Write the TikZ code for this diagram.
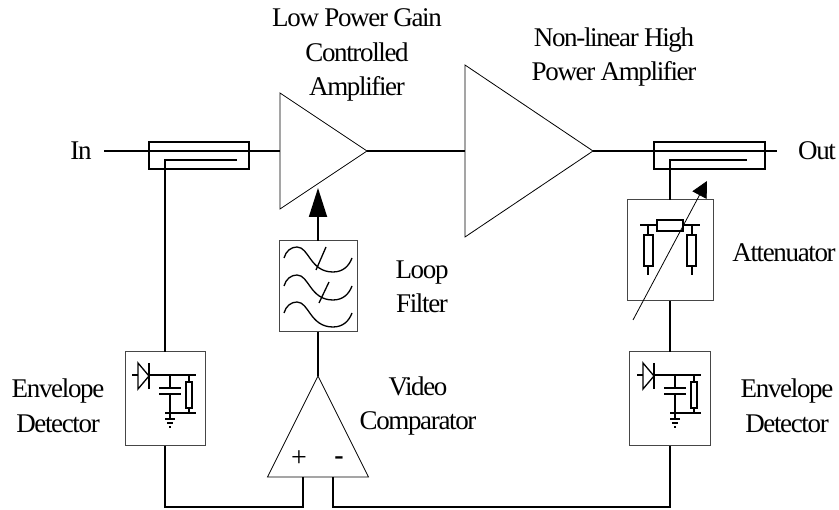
\documentclass[tikz,border=0pt]{standalone}
\usepackage{fontspec}
\setmainfont[LetterSpace=-5]{Liberation Serif}
\usetikzlibrary{shapes.geometric, arrows.meta, positioning, calc}
\definecolor{boxgrey}{RGB}{70,70,70}
\tikzset{
    wire/.style={line width=1.8pt, black},
    thinline/.style={line width=0.8pt, black},
    symline/.style={line width=1.3pt, black},
    label/.style={font=\fontsize{27}{34.5}\selectfont, inner sep=0pt, align=center},
    circuitbox/.style={draw=boxgrey, line width=1pt, inner sep=0pt, outer sep=0pt},
    coupler/.style={draw, line width=1.8pt, inner sep=0pt, outer sep=0pt, minimum height=27, minimum width=#1},
    amp/.style={draw, line width=0.8pt, isosceles triangle, isosceles triangle stretches, inner sep=0pt, outer sep=0pt, anchor=apex},
    pics/envdetector/.style={code={
        % diode and rail
        \draw[symline] (-38,-24) -- (-32,-24);
        \draw[symline] (-32,-36) -- (-32,-10) -- (-21,-23) -- cycle;
        \draw[symline] (-21,-36) -- (-21,-10);
        \draw[symline] (-21,-24) -- (26,-24);
        % capacitor
        \draw[symline] (0,-24) -- (0,-11) (-11,-11) -- (11,-11) (-11,-5) -- (11,-5) (0,-5) -- (0,20);
        % shunt resistor
        \draw[symline] (19,-24) -- (19,-17) (19,9) -- (19,14);
        \draw[symline] (16,-17) rectangle (22,9);
        \draw[symline] (-5,14) -- (26,14);
        % ground
        \draw[symline] (-5,20) -- (5,20) (-3,24) -- (3,24) (-1,28) -- (1,28);
    }},
    pics/filtercurve/.style={code={
        \draw[symline] (0,0) .. controls (2,-7) and (7,-11) .. (13,-11)
            .. controls (25,-11) and (26,14) .. (49,14)
            .. controls (59,14) and (65,8) .. (68,0);
    }},
}
\begin{document}
\begin{tikzpicture}[x=1pt,y=-1pt]
    \useasboundingbox (0,0) rectangle (839,510);

    % amplifiers
    \node[amp, minimum width=116, minimum height=87] (ampLow) at (367,151) {};
    \node[amp, minimum width=172, minimum height=128] (ampHigh) at (593,151) {};
    \node[amp, shape border rotate=90, minimum width=101, minimum height=101] (cmp) at (318,376) {};

    % couplers
    \node[coupler=100] (cplIn) at (199,155.5) {};
    \node[coupler=111] (cplOut) at (709.5,155.5) {};

    % circuit boxes
    \node[circuitbox, minimum width=78, minimum height=91] (filter) at (318,286.5) {};
    \node[circuitbox, minimum width=86, minimum height=101] (atten) at (670,250.5) {};
    \node[circuitbox, minimum width=80, minimum height=94] (detL) at (165,399) {};
    \node[circuitbox, minimum width=81, minimum height=94] (detR) at (670,399) {};

    \coordinate (inEnd) at (104,151);
    \coordinate (outEnd) at (777,151);
    \coordinate (tapIn) at (165,160);
    \coordinate (tapInEnd) at (237,160);
    \coordinate (tapOut) at (670,160);
    \coordinate (tapOutEnd) at (747,160);
    \coordinate (plusIn) at (303,477);
    \coordinate (minusIn) at (333,477);
    \coordinate (attenStart) at (633,320);
    \coordinate (attenTip) at (707,181);

    % signal path
    \draw[wire] (inEnd) -- (ampLow.lower side);
    \draw[wire] (ampLow.apex) -- (ampHigh.lower side);
    \draw[wire] (ampHigh.apex) -- (outEnd);

    % detection loop
    \draw[wire] (tapInEnd) -- (tapIn) -- (detL.north);
    \draw[wire] (tapOutEnd) -- (tapOut) -- (atten.north);
    \draw[wire] (atten.south) -- (detR.north);
    \draw[wire] (detL.south) -- ++(0,61) -| (plusIn);
    \draw[wire] (detR.south) -- ++(0,61) -| (minusIn);
    \draw[wire] (cmp.apex) -- (filter.south);
    \draw[wire, -{Triangle[length=29pt,width=18pt]}] (filter.north) -- (318,188);
    \draw[thinline, -{Triangle[length=16pt,width=16pt]}] (attenStart) -- (attenTip);

    % filter symbol
    \pic at (284,258) {filtercurve};
    \pic at (284,286) {filtercurve};
    \pic at (284,313) {filtercurve};
    \draw[symline] (316,270) -- (326,247);
    \draw[symline] (319,303) -- (329,282);

    % attenuator symbol
    \draw[symline] (640,225) -- (657,225) (683,225) -- (700,225);
    \draw[symline] (657,220) rectangle (683,231);
    \draw[symline] (648,225) -- (648,235) (648,266) -- (648,275);
    \draw[symline] (644,235) rectangle (653,266);
    \draw[symline] (692,225) -- (692,235) (692,266) -- (692,275);
    \draw[symline] (687,235) rectangle (696,266);

    % detectors
    \pic at (170,399) {envdetector};
    \pic at (675,399) {envdetector};

    % labels
    \node[label] (lblIn) at (81,151) {In};
    \node[label] (lblOut) at (817,151) {Out};
    \node[label] (lblLow) at (357,55) {Low Power Gain\\Controlled\\Amplifier};
    \node[label] (lblHigh) at (614,57) {Non-linear High\\Power Amplifier};
    \node[label] (lblAtten) at (784,253) {Attenuator};
    \node[label] (lblLoop) at (422,287) {Loop\\Filter};
    \node[label] (lblVideo) at (418,406) {Video\\Comparator};
    \node[label] (lblEnvL) at (58,406) {Envelope\\Detector};
    \node[label] (lblEnvR) at (787,406) {Envelope\\Detector};
    \node[inner sep=0pt, font=\fontsize{28}{28}\selectfont] (cmpPlus) at (299,459) {+};
    \node[inner sep=0pt, font=\bfseries\fontsize{28}{28}\selectfont] (cmpMinus) at (339,461) {-};
\end{tikzpicture}
\end{document}
